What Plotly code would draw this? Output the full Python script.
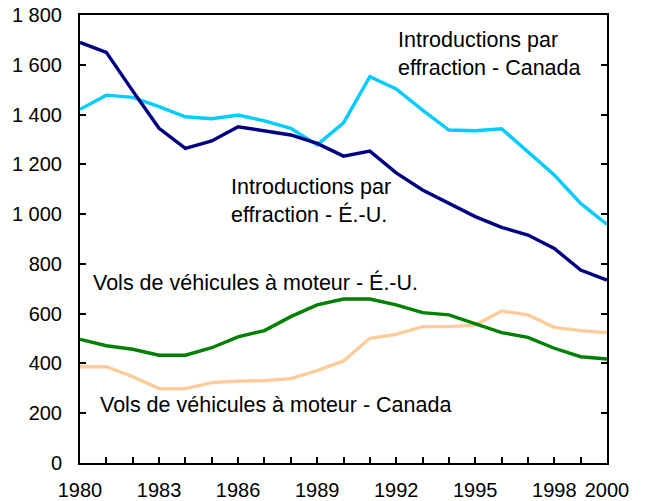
import plotly.graph_objects as go

years = list(range(1980, 2001))
burg_us = [1690, 1650, 1495, 1345, 1264, 1294, 1351, 1334, 1318, 1284, 1233,
           1253, 1166, 1097, 1043, 990, 947, 916, 862, 775, 735]
burg_ca = [1421, 1478, 1469, 1432, 1391, 1383, 1398, 1375, 1345, 1278, 1367,
           1552, 1503, 1418, 1338, 1335, 1343, 1251, 1157, 1043, 959]
veh_us = [497, 471, 457, 433, 433, 463, 507, 532, 588, 635, 659,
          659, 635, 604, 595, 561, 524, 505, 461, 427, 418]
veh_ca = [387, 387, 347, 299, 299, 323, 329, 331, 339, 371, 410,
          501, 517, 548, 548, 554, 611, 595, 545, 532, 524]

x_labels = ["1980", "", "", "1983", "", "", "1986", "", "", "1989", "", "",
            "1992", "", "", "1995", "", "", "1998", "", "2000"]
y_ticks = [0, 200, 400, 600, 800, 1000, 1200, 1400, 1600, 1800]

fig = go.Figure()
series = [
    (veh_ca, "#FFCC99", "Vols de véhicules à moteur - Canada"),
    (veh_us, "#008000", "Vols de véhicules à moteur - É.-U."),
    (burg_ca, "#00CCFF", "Introductions par effraction - Canada"),
    (burg_us, "#000080", "Introductions par effraction - É.-U."),
]
for vals, col, name in series:
    fig.add_trace(go.Scatter(x=years, y=vals, mode="lines", name=name,
                             line=dict(color=col, width=3.4)))

tick_font = dict(family="Liberation Sans, Arial, sans-serif", size=20, color="black")
ann_font = dict(family="Liberation Sans, Arial, sans-serif", size=21.5, color="black")
anns = [
    (1992.0, 1643, "Introductions par<br>effraction - Canada"),
    (1985.66, 1053, "Introductions par<br>effraction - É.-U."),
    (1980.42, 727, "Vols de véhicules à moteur - É.-U."),
    (1980.69, 233, "Vols de véhicules à moteur - Canada"),
]
for ax, ay, txt in anns:
    fig.add_annotation(x=ax, y=ay, text=txt, showarrow=False, xanchor="left",
                       yanchor="middle", align="left", font=ann_font)

fig.update_layout(
    width=641, height=501,
    margin=dict(l=72, r=42, t=7, b=46, autoexpand=False),
    plot_bgcolor="white", paper_bgcolor="white",
    showlegend=False, separators=", ",
    font=tick_font,
)
fig.update_xaxes(range=[1980, 2000], tickvals=years, ticktext=x_labels,
                 ticks="inside", ticklen=6, tickwidth=1.5, tickcolor="black",
                 showline=True, linecolor="black", linewidth=2, mirror=True,
                 showgrid=False, zeroline=False, tickfont=tick_font,
                 automargin=False, ticklabelstandoff=8, ticklabeloverflow="allow")
fig.update_yaxes(range=[0, 1800], tickvals=y_ticks, tickformat=",d",
                 ticks="inside", ticklen=6, tickwidth=1.5, tickcolor="black",
                 showline=True, linecolor="black", linewidth=2, mirror="ticks",
                 showgrid=False, zeroline=False, tickfont=tick_font,
                 automargin=False, ticklabelstandoff=12, ticklabeloverflow="allow")

fig.write_html("out.html")
